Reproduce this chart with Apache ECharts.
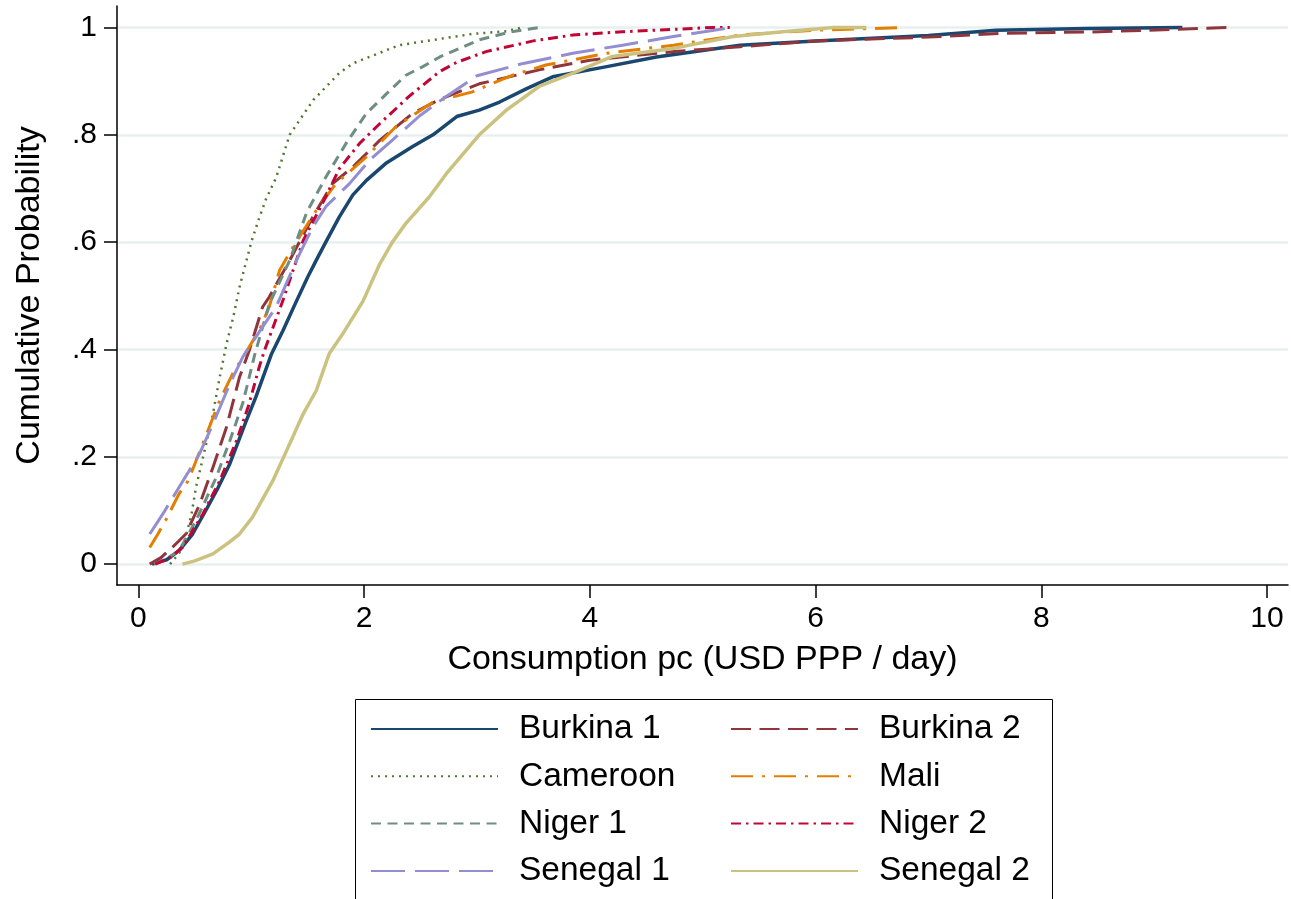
<!DOCTYPE html>
<html>
<head>
<meta charset="utf-8">
<title>Cumulative distribution of consumption</title>
<script src="https://cdn.jsdelivr.net/npm/echarts@6/dist/echarts.min.js"></script>
<style>
  html, body { margin: 0; padding: 0; background: #fff; }
  #chart { width: 1291px; height: 899px; }
</style>
</head>
<body>
<div id="chart"></div>
<script>
// Empirical CDFs of daily per-capita consumption, [USD PPP per day, cumulative share]
const burkina1 = [[0.12,0],[0.25,0.008],[0.36,0.025],[0.48,0.056],[0.61,0.105],[0.7,0.14],[0.81,0.187],[0.955,0.267],[1.04,0.311],[1.18,0.392],[1.28,0.435],[1.4,0.49],[1.5,0.535],[1.575,0.566],[1.66,0.6],[1.78,0.647],[1.9,0.688],[2.02,0.715],[2.2,0.748],[2.43,0.778],[2.61,0.8],[2.82,0.834],[3.02,0.846],[3.2,0.861],[3.44,0.886],[3.67,0.908],[4.15,0.927],[4.59,0.945],[5.33,0.967],[6.0,0.975],[7.0,0.985],[7.6,0.995],[8.4,0.998],[9.25,1.0]];
const burkina2 = [[0.1,0],[0.2,0.012],[0.3,0.031],[0.42,0.056],[0.54,0.11],[0.66,0.18],[0.78,0.255],[0.895,0.348],[0.985,0.4],[1.1,0.479],[1.16,0.498],[1.34,0.566],[1.545,0.647],[1.72,0.709],[1.9,0.74],[2.14,0.79],[2.43,0.84],[2.67,0.866],[3.02,0.895],[3.55,0.921],[4.0,0.939],[4.74,0.955],[5.33,0.964],[6.0,0.975],[7.0,0.982],[7.63,0.989],[8.52,0.992],[9.4,0.998],[9.67,1.0]];
const cameroon = [[0.28,0],[0.36,0.02],[0.42,0.05],[0.47,0.093],[0.51,0.143],[0.6,0.224],[0.66,0.28],[0.72,0.348],[0.78,0.41],[0.84,0.46],[0.9,0.52],[1.0,0.6],[1.07,0.645],[1.13,0.68],[1.22,0.72],[1.34,0.8],[1.55,0.865],[1.78,0.915],[1.9,0.933],[2.31,0.967],[2.96,0.988],[3.26,0.993],[3.4,1.0]];
const mali = [[0.1,0.031],[0.17,0.055],[0.24,0.081],[0.36,0.131],[0.44,0.155],[0.57,0.224],[0.72,0.305],[0.84,0.357],[0.96,0.397],[1.08,0.44],[1.16,0.48],[1.25,0.547],[1.37,0.591],[1.575,0.659],[1.75,0.709],[2.02,0.759],[2.28,0.815],[2.61,0.861],[2.96,0.88],[3.3,0.91],[3.61,0.93],[4.15,0.952],[4.74,0.967],[5.33,0.986],[6.0,0.995],[6.8,1.0]];
const niger1 = [[0.14,0],[0.25,0.01],[0.36,0.025],[0.51,0.081],[0.69,0.162],[0.81,0.23],[0.925,0.3],[1.03,0.39],[1.16,0.485],[1.34,0.566],[1.49,0.655],[1.66,0.721],[1.84,0.784],[2.02,0.84],[2.23,0.883],[2.37,0.911],[2.52,0.927],[2.67,0.945],[3.02,0.977],[3.3,0.992],[3.56,1.0]];
const niger2 = [[0.15,0],[0.28,0.012],[0.39,0.031],[0.57,0.093],[0.72,0.155],[0.87,0.23],[0.98,0.298],[1.07,0.367],[1.12,0.4],[1.28,0.491],[1.34,0.529],[1.46,0.603],[1.63,0.672],[1.78,0.737],[1.96,0.784],[2.14,0.821],[2.4,0.872],[2.67,0.918],[2.82,0.935],[3.08,0.955],[3.5,0.975],[3.85,0.986],[4.29,0.992],[5.09,1.0],[5.24,1.0]];
const senegal1 = [[0.1,0.056],[0.215,0.093],[0.36,0.143],[0.54,0.205],[0.66,0.261],[0.81,0.336],[0.925,0.386],[1.1,0.442],[1.22,0.479],[1.4,0.566],[1.545,0.628],[1.66,0.666],[1.87,0.709],[2.05,0.753],[2.25,0.79],[2.49,0.835],[2.73,0.872],[3.0,0.91],[3.41,0.933],[3.85,0.952],[4.29,0.967],[4.74,0.983],[5.1,0.995],[5.27,1.0]];
const senegal2 = [[0.39,0],[0.5,0.006],[0.66,0.019],[0.8,0.04],[0.895,0.056],[1.01,0.087],[1.19,0.155],[1.34,0.224],[1.46,0.28],[1.575,0.323],[1.69,0.392],[1.81,0.429],[1.99,0.49],[2.14,0.56],[2.25,0.6],[2.37,0.635],[2.58,0.685],[2.73,0.728],[3.02,0.8],[3.26,0.846],[3.55,0.89],[3.85,0.915],[4.2,0.946],[4.74,0.961],[5.27,0.983],[5.71,0.992],[6.16,1.0],[6.45,1.0]];

const xTicks = [0, 2, 4, 6, 8, 10];
const yTicks = [0, 0.2, 0.4, 0.6, 0.8, 1];
const legendLeftColumn = ['Burkina 1', 'Cameroon', 'Niger 1', 'Senegal 1'];
const legendRightColumn = ['Burkina 2', 'Mali', 'Niger 2', 'Senegal 2'];

const FONT = "'Liberation Sans', Arial, sans-serif";

function curve(name, data, color, width, dash) {
  return {
    name: name,
    type: 'line',
    data: data,
    symbol: 'none',
    showSymbol: false,
    silent: true,
    lineStyle: { color: color, width: width, type: dash, cap: 'butt', join: 'round' },
    itemStyle: { color: color }
  };
}

const chart = echarts.init(document.getElementById('chart'), null, { renderer: 'canvas' });

// Legend keys show only the line sample, no marker
const legendCommon = {
  orient: 'vertical',
  top: 706,
  itemWidth: 127,
  itemHeight: 14,
  itemGap: 11.3,
  selectedMode: false,
  itemStyle: { opacity: 0 },
  textStyle: { fontFamily: FONT, fontSize: 33.5, color: '#000', lineHeight: 36, padding: [0, 0, 0, 16] }
};

chart.setOption({
  animation: false,
  backgroundColor: '#fff',
  textStyle: { fontFamily: FONT },
  grid: { left: 117, right: 3, top: 6, bottom: 314, containLabel: false },
  xAxis: {
    type: 'value',
    min: -0.19,
    max: 10.186,
    name: 'Consumption pc (USD PPP / day)',
    nameLocation: 'middle',
    nameGap: 58,
    nameTextStyle: { fontFamily: FONT, fontSize: 34, color: '#000' },
    axisLine: { show: true, onZero: false, lineStyle: { color: '#000', width: 1.5 } },
    axisTick: { show: true, length: 13, customValues: xTicks, lineStyle: { color: '#000', width: 1.5 } },
    axisLabel: { customValues: xTicks, fontFamily: FONT, fontSize: 30, color: '#000', margin: 19 },
    splitLine: { show: false }
  },
  yAxis: {
    type: 'value',
    min: -0.039,
    max: 1.04,
    name: 'Cumulative Probability',
    nameLocation: 'middle',
    nameGap: 70,
    nameTextStyle: { fontFamily: FONT, fontSize: 34, color: '#000' },
    axisLine: { show: true, onZero: false, lineStyle: { color: '#000', width: 1.5 } },
    axisTick: { show: true, length: 13, customValues: yTicks, lineStyle: { color: '#000', width: 1.5 } },
    axisLabel: {
      customValues: yTicks,
      fontFamily: FONT, fontSize: 30, color: '#000', margin: 20,
      formatter: function (v) {
        if (v === 0) return '0';
        if (v === 1) return '1';
        return String(+v.toFixed(1)).replace(/^0\./, '.');
      }
    },
    splitLine: { show: true, lineStyle: { color: '#e8eff1', width: 2.5 } }
  },
  legend: [
    Object.assign({}, legendCommon, { left: 365, data: legendLeftColumn }),
    Object.assign({}, legendCommon, { left: 725, data: legendRightColumn })
  ],
  graphic: [{
    type: 'rect',
    left: 353, top: 697,
    shape: { width: 697, height: 200 },
    style: { fill: 'none', stroke: '#000', lineWidth: 1 },
    silent: true
  }],
  series: [
    curve('Burkina 1', burkina1, '#1a476f', 3.5, 'solid'),
    curve('Burkina 2', burkina2, '#90353b', 3, [20, 8.5]),
    curve('Cameroon', cameroon, '#55752f', 2.5, [2, 5]),
    curve('Mali', mali, '#e37e00', 3, [22, 9, 3, 9]),
    curve('Niger 1', niger1, '#6e8e84', 3, [10, 6.5]),
    curve('Niger 2', niger2, '#c10534', 3, [10, 5, 2.5, 5]),
    curve('Senegal 1', senegal1, '#938dd2', 3, [34, 10]),
    curve('Senegal 2', senegal2, '#cac27e', 3.5, 'solid')
  ]
});
</script>
</body>
</html>
